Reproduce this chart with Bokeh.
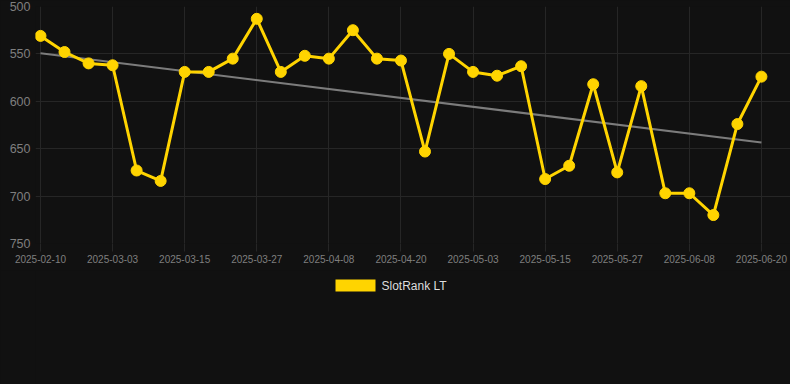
import numpy as np
from bokeh.plotting import figure
from bokeh.layouts import column
from bokeh.models import ColumnDataSource, Range1d, FixedTicker, BoxAnnotation, Label
from bokeh.embed import file_html
from bokeh.resources import INLINE

# ---- data ----
rank_values = [531, 548, 560, 562, 673, 684, 569, 569, 555, 513, 569, 552, 555, 525, 555,
               557, 653, 550, 569, 573, 563, 682, 668, 582, 675, 584, 697, 697, 720, 624, 574]
tick_labels = ["2025-02-10", "2025-03-03", "2025-03-15", "2025-03-27", "2025-04-08",
               "2025-04-20", "2025-05-03", "2025-05-15", "2025-05-27", "2025-06-08", "2025-06-20"]
tick_step = 3
y_ticks = [500, 550, 600, 650, 700, 750]
series_name = "SlotRank LT"

idx = list(range(len(rank_values)))
tick_pos = idx[::tick_step]
slope, intercept = np.polyfit(idx, rank_values, 1)
trend_x = [idx[0], idx[-1]]
trend_y = [intercept + slope * idx[0], intercept + slope * idx[-1]]

BG = "#111111"
GRID = "#262626"
YELLOW = "#FFD400"
FONT = "Liberation Sans"

# ---- main chart ----
p = figure(width=790, height=270, output_backend="svg", toolbar_location=None,
           x_range=Range1d(-0.208, 31.21), y_range=Range1d(750, 500),
           min_border_left=35, min_border_right=0, min_border_top=6, min_border_bottom=27,
           styles={"background-color": BG})
p.background_fill_color = BG
p.border_fill_color = BG
p.outline_line_color = None

src = ColumnDataSource(dict(x=idx, y=rank_values))
p.line(trend_x, trend_y, line_color="#7c7c7c", line_width=2)
p.line("x", "y", source=src, line_color=YELLOW, line_width=3)
p.scatter("x", "y", source=src, size=11, fill_color=YELLOW, line_color=YELLOW)

p.xaxis.ticker = FixedTicker(ticks=tick_pos)
p.xaxis.major_label_overrides = {pos: lab for pos, lab in zip(tick_pos, tick_labels)}
p.yaxis.ticker = FixedTicker(ticks=y_ticks)

for ax in (p.xaxis, p.yaxis):
    ax.axis_line_color = None
    ax.minor_tick_line_color = None
    ax.major_label_text_color = "#7f7f7f"
    ax.major_label_text_font = FONT

p.xaxis.major_tick_line_color = GRID
p.xaxis.major_tick_in = 0
p.xaxis.major_tick_out = 8
p.xaxis.major_label_standoff = 3
p.xaxis.major_label_text_font_size = "10px"

p.yaxis.major_tick_line_color = None
p.yaxis.major_tick_in = 0
p.yaxis.major_tick_out = 0
p.yaxis.major_label_standoff = 5
p.yaxis.major_label_text_font_size = "12.5px"

p.xgrid.grid_line_color = GRID
p.ygrid.grid_line_color = GRID

# ---- legend strip (pixel-unit ranges, frame aligned with chart) ----
lg = figure(width=790, height=114, output_backend="svg", toolbar_location=None,
            x_range=Range1d(35, 790), y_range=Range1d(114, 0),
            x_axis_type=None, y_axis_type=None,
            min_border_left=35, min_border_right=0, min_border_top=0, min_border_bottom=0,
            styles={"background-color": BG})
lg.background_fill_color = BG
lg.border_fill_color = BG
lg.outline_line_color = None
lg.grid.visible = False

lg.add_layout(BoxAnnotation(left=335, right=375, top=9, bottom=21,
                            fill_color=YELLOW, fill_alpha=1.0, line_color=None))
lg.add_layout(Label(x=381, y=15, text=series_name, text_baseline="middle",
                    text_color="#dddddd", text_font=FONT, text_font_size="12px"))

layout = column(p, lg, spacing=0, styles={"background-color": BG})
open("out.html", "w").write(file_html(layout, INLINE))
